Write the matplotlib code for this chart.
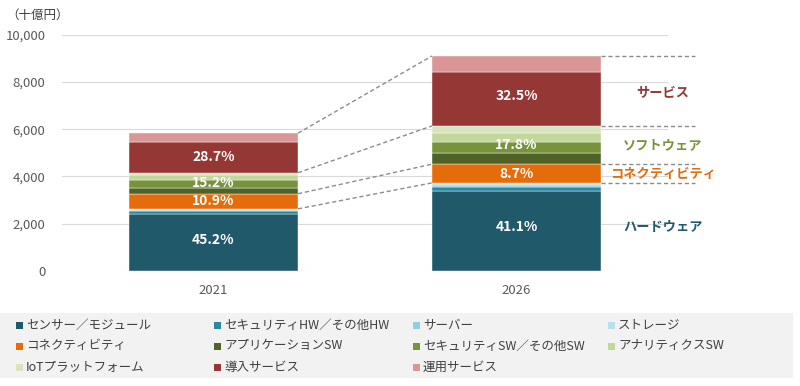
import matplotlib
matplotlib.use("Agg")
import matplotlib.pyplot as plt
import numpy as np
from matplotlib.patches import Rectangle

plt.rcParams['font.family'] = ['Noto Sans CJK JP', 'DejaVu Sans']

years = ["2021", "2026"]
series_names = ["センサー／モジュール", "セキュリティHW／その他HW", "サーバー", "ストレージ",
                "コネクティビティ", "アプリケーションSW", "セキュリティSW／その他SW", "アナリティクスSW",
                "IoTプラットフォーム", "導入サービス", "運用サービス"]
values = {
    "センサー／モジュール": [2410, 3390],
    "セキュリティHW／その他HW": [140, 160],
    "サーバー": [50, 100],
    "ストレージ": [30, 80],
    "コネクティビティ": [640, 790],
    "アプリケーションSW": [237, 465],
    "セキュリティSW／その他SW": [325, 495],
    "アナリティクスSW": [211, 350],
    "IoTプラットフォーム": [115, 310],
    "導入サービス": [1311, 2300],
    "運用サービス": [364, 660],
}
colors = ["#20596A", "#2B86A0", "#8ECFE2", "#B8E0EA", "#E46C0A", "#4F6228",
          "#77933C", "#C3D69B", "#D7E4BD", "#953735", "#D99694"]
group_names = ["ハードウェア", "コネクティビティ", "ソフトウェア", "サービス"]
group_members = [[0, 1, 2, 3], [4], [5, 6, 7, 8], [9, 10]]
group_shares = {"2021": ["45.2%", "10.9%", "15.2%", "28.7%"],
                "2026": ["41.1%", "8.7%", "17.8%", "32.5%"]}
group_colors = ["#20596A", "#E46C0A", "#77933C", "#953735"]
y_ticks = [0, 2000, 4000, 6000, 8000, 10000]

W, H = 800, 386
fig = plt.figure(figsize=(8, 3.86), dpi=100)
ax = fig.add_axes([62 / W, 1 - 271 / H, 606 / W, 236.3 / H])
x = np.arange(len(years))
w = 0.558
bottoms = np.zeros(len(years))
bounds = []
for i, name in enumerate(series_names):
    v = np.array(values[name], dtype=float)
    ax.bar(x, v, w, bottom=bottoms, color=colors[i], edgecolor="white", linewidth=0.3,
           label=name, zorder=3)
    bottoms = bottoms + v
    bounds.append(bottoms.copy())

ax.set_xlim(-0.5, 1.5)
ax.set_ylim(0, 10000)
ax.set_yticks(y_ticks)
ax.set_yticklabels([f"{t:,}" for t in y_ticks])
ax.set_xticks(x)
ax.set_xticklabels(years)
ax.tick_params(axis='both', length=0, labelsize=9.5, colors="#595959")
ax.tick_params(axis='y', pad=12)
ax.tick_params(axis='x', pad=9)
ax.grid(axis='y', color="#D9D9D9", linewidth=0.8, zorder=0)
for s in ax.spines.values():
    s.set_visible(False)

group_tops, group_bots = [], []
cum = np.zeros(len(years))
for members in group_members:
    group_bots.append(cum.copy())
    top = bounds[members[-1]]
    group_tops.append(top)
    cum = top.copy()

for j, yr in enumerate(years):
    for g in range(4):
        if g == 3:
            yc = (group_bots[3][j] + bounds[9][j]) / 2 + (0 if j == 0 else 100)
        else:
            yc = (group_bots[g][j] + group_tops[g][j]) / 2
        ax.text(x[j], yc, group_shares[yr][g], ha='center', va='center', color='white',
                fontsize=10, fontweight='bold', zorder=5)

for lv in group_tops:
    ax.plot([x[0] + w / 2, x[1] - w / 2], [lv[0], lv[1]], ls=(0, (3, 2)), color="#8C8C8C",
            lw=1, zorder=4)
    ax.plot([x[1] + w / 2, 1.59], [lv[1], lv[1]], ls=(0, (3, 2)), color="#8C8C8C",
            lw=1, zorder=4, clip_on=False)

label_y = [(group_bots[g][1] + group_tops[g][1]) / 2 for g in range(4)]
label_y[3] -= 80
for g in range(4):
    ax.text(1.483, label_y[g], group_names[g], ha='center', va='center',
            color=group_colors[g], fontsize=9.5, fontweight='bold', clip_on=False)

fig.text(6 / W, 1 - 15 / H, "（十億円）", ha='left', va='center', fontsize=9, color="#404040")

# legend
fig.patches.append(Rectangle((0, 1 - 378 / H), 793 / W, 65 / H, transform=fig.transFigure,
                             facecolor="#F2F2F2", edgecolor="none", zorder=0))
col_x = [16, 214, 413, 608]
row_y = [325, 346, 367]
for i, name in enumerate(series_names):
    r, c = divmod(i, 4)
    fig.patches.append(Rectangle((col_x[c] / W, 1 - (row_y[r] + 3.5) / H), 7 / W, 7 / H,
                                 transform=fig.transFigure, facecolor=colors[i],
                                 edgecolor="none", zorder=1))
    fig.text((col_x[c] + 10) / W, 1 - row_y[r] / H, name, ha='left', va='center',
             fontsize=9, color="#404040")

fig.savefig("out.png", dpi=100)
